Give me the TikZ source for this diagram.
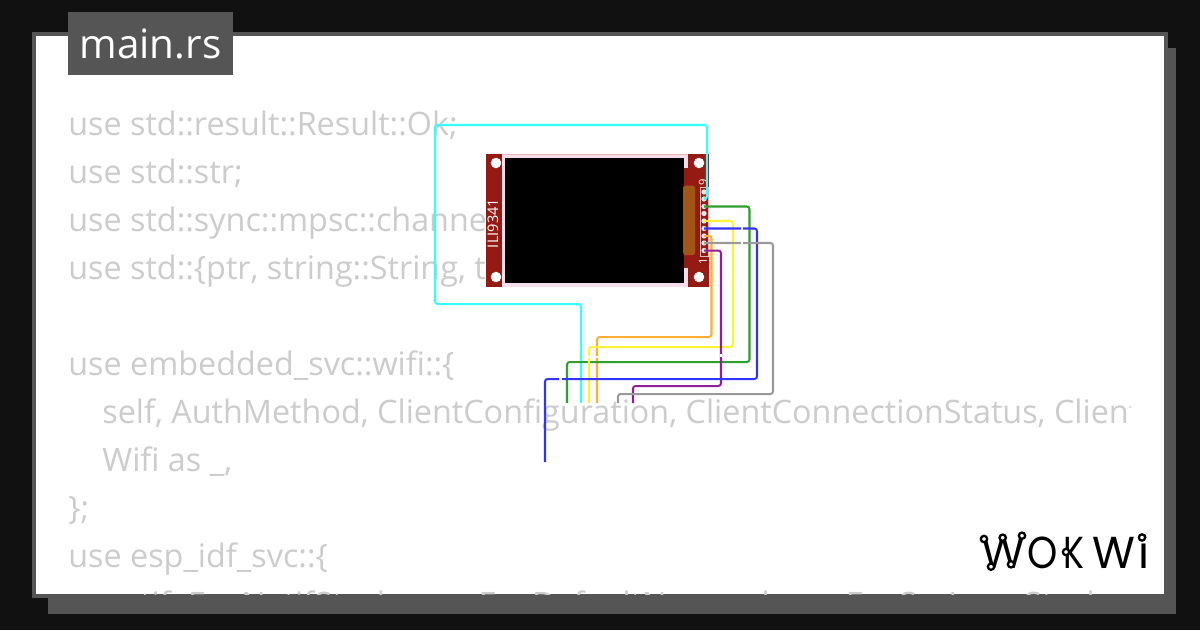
\documentclass[tikz,border=0pt]{standalone}
\usepackage{graphicx}
\usepackage{fontspec}
\setmainfont{Open Sans}
\newfontfamily\logofont{Poppins}
\usetikzlibrary{positioning}
\definecolor{framegrey}{HTML}{555555}
\definecolor{pagedark}{HTML}{111111}
\definecolor{codegrey}{HTML}{CCCCCC}
\definecolor{boardred}{HTML}{951A14}
\definecolor{framepink}{HTML}{F5DDE9}
\definecolor{edgepink}{HTML}{E8B4BC}
\definecolor{flexbrown}{HTML}{A35417}
\definecolor{wirecyan}{HTML}{33FFFF}
\definecolor{wiregreen}{HTML}{2F9E2F}
\definecolor{wireyellow}{HTML}{FFF333}
\definecolor{wireblue}{HTML}{3333FF}
\definecolor{wireorange}{HTML}{FFAE33}
\definecolor{wiregrey}{HTML}{999999}
\definecolor{wirepurple}{HTML}{8E1F96}
\newcommand{\logoletter}[3]{\makebox[#1][l]{\scalebox{#2}[1]{#3}}}
\tikzset{
    codeline/.style={anchor=base west,inner sep=0pt,text=codegrey,font=\fontsize{18.4pt}{21pt}\selectfont},
    wire/.style={line width=1.15pt,rounded corners=1.5pt},
    hole/.style={circle,fill=white,inner sep=0pt,minimum size=6pt},
    pinpad/.style={circle,fill=white!90!black,inner sep=0pt,minimum size=3pt},
    logodot/.style={circle,draw=black,fill=white,line width=1.3pt,inner sep=0pt,minimum size=3.6pt},
    wiregap/.style={white,line width=1.3pt}
}
\begin{document}
\begin{tikzpicture}[x=0.02cm,y=-0.02cm]
    \useasboundingbox (0,0) rectangle (1200,630);
    \fill[pagedark] (0,0) rectangle (1200,630);
    \fill[framegrey] (48,48) rectangle (1176,614);
    \fill[framegrey] (32,32) rectangle (1168,598);
    \fill[white] (36,36) rectangle (1164,594);
    % code behind the board
    \begin{scope}
        \clip (36,36) rectangle (1130,594);
        \node[codeline] (line1) at (68,135) {use std::result::Result::Ok;};
        \node[codeline] (line2) at (68,183) {use std::str;};
        \node[codeline] (line3) at (68,231) {use std::sync::mpsc::channel;};
        \node[codeline] (line4) at (68,279) {use std::\{ptr, string::String, time::Duration\};};
        \node[codeline] (line6) at (68,375) {use embedded\_svc::wifi::\{};
        \node[codeline] (line7) at (102,423) {self, AuthMethod, ClientConfiguration, ClientConnectionStatus, ClientIpStatus};
        \node[codeline] (line8) at (102,471) {Wifi as \_,};
        \node[codeline] (line9) at (68,519) {\};};
        \node[codeline] (line10) at (68,567) {use esp\_idf\_svc::\{};
        \node[codeline] (line11) at (102,615) {netif::EspNetifStack, nvs::EspDefaultNvs, sysloop::EspSysLoopStack,};
    \end{scope}
    % tab
    \node[fill=framegrey,minimum width=165*0.02cm,minimum height=63*0.02cm,inner sep=0pt,text=white,
        font=\fontsize{23pt}{26pt}\selectfont] (tab) at (150.5,43.5) {main.rs};
    % board
    \fill[framepink] (486,153.5) rectangle (708.5,287);
    \fill[edgepink] (486,153.5) rectangle (708.5,154.5);
    \fill[boardred] (486,153.5) rectangle (502,287);
    \fill[boardred] (688,153.5) rectangle (708.5,287);
    \fill[boardred] (683,168) rectangle (688,268);
    \fill[black] (505,158) rectangle (683.5,282.5);
    \fill[flexbrown,rounded corners=1pt] (683,185.5) rectangle (695,255);
    \node[hole] (holeA) at (496,163) {};
    \node[hole] (holeB) at (496,277) {};
    \node[hole] (holeC) at (699,163) {};
    \node[hole] (holeD) at (699,277) {};
    \draw[white!70!boardred,line width=0.4pt] (700,187) rectangle (708,256);
    \foreach \n/\y in {1/250.5,2/243,3/236,4/228.5,5/221,6/213.5,7/206.5,8/199,9/192}
        \node[pinpad] (pin\n) at (704,\y) {};
    \node[rotate=90,text=white,inner sep=0pt,font=\fontsize{8.3pt}{9pt}\selectfont] (boardname) at (493,223.5) {ILI9341};
    \node[rotate=90,text=white,inner sep=0pt,font=\fontsize{6.3pt}{7pt}\selectfont] (pinlabelA) at (703,261) {1};
    \node[rotate=90,text=white,inner sep=0pt,font=\fontsize{6.3pt}{7pt}\selectfont] (pinlabelB) at (703,182) {9};
    % free wire ends
    \coordinate (endcyan) at (581,403);
    \coordinate (endgreen) at (567,403);
    \coordinate (endyellow) at (589,403);
    \coordinate (endorange) at (597,403);
    \coordinate (endblue) at (545,462);
    \coordinate (endgrey) at (618,403);
    \coordinate (endpurple) at (633,403);
    % wires
    \draw[wire,wireorange] (pin3.center) -| (711.5,337) -| (endorange);
    \draw[wire,wirecyan] (pin8.center) -| (707,125) -| (435,304) -| (endcyan);
    \draw[wire,wiregreen] (pin7.center) -| (749.5,362) -| (endgreen);
    \draw[wire,wireyellow] (pin5.center) -| (733,347) -| (endyellow);
    \draw[wire,wirepurple] (pin1.center) -| (721,386) -| (endpurple);
    \draw[wire,wireblue] (pin4.center) -| (757,379) -| (endblue);
    \draw[wire,wiregrey] (pin2.center) -| (773,394) -| (endgrey);
    % gaps in the wires
    \draw[wiregap] (740.5,228.5) -- (743,228.5);
    \draw[wiregap] (740.5,243) -- (743,243);
    \draw[wiregap] (559,379) -- (561.5,379);
    \draw[wiregap] (589,355.5) -- (589,358);
    \draw[wiregap] (597,355.5) -- (597,358);
    \draw[wiregap] (721,354) -- (721,356.5);
    % logo
    \node[anchor=west,inner sep=0pt,font=\logofont\fontsize{25.5pt}{28pt}\selectfont] (logo) at (981,551.5)
        {\logoletter{26.2pt}{1}{W}\logoletter{20.6pt}{.86}{O}\logoletter{16.2pt}{.78}{K}\logoletter{26.6pt}{.98}{W}i};
    \foreach \n/\x/\y in {a/984/539,b/1002.7/537.7,c/1022/535.7,d/991/566.7,e/1011/564.3,f/1066/552,g/1142/537.5}
        \node[logodot] (logodot\n) at (\x,\y) {};
\end{tikzpicture}
\end{document}
